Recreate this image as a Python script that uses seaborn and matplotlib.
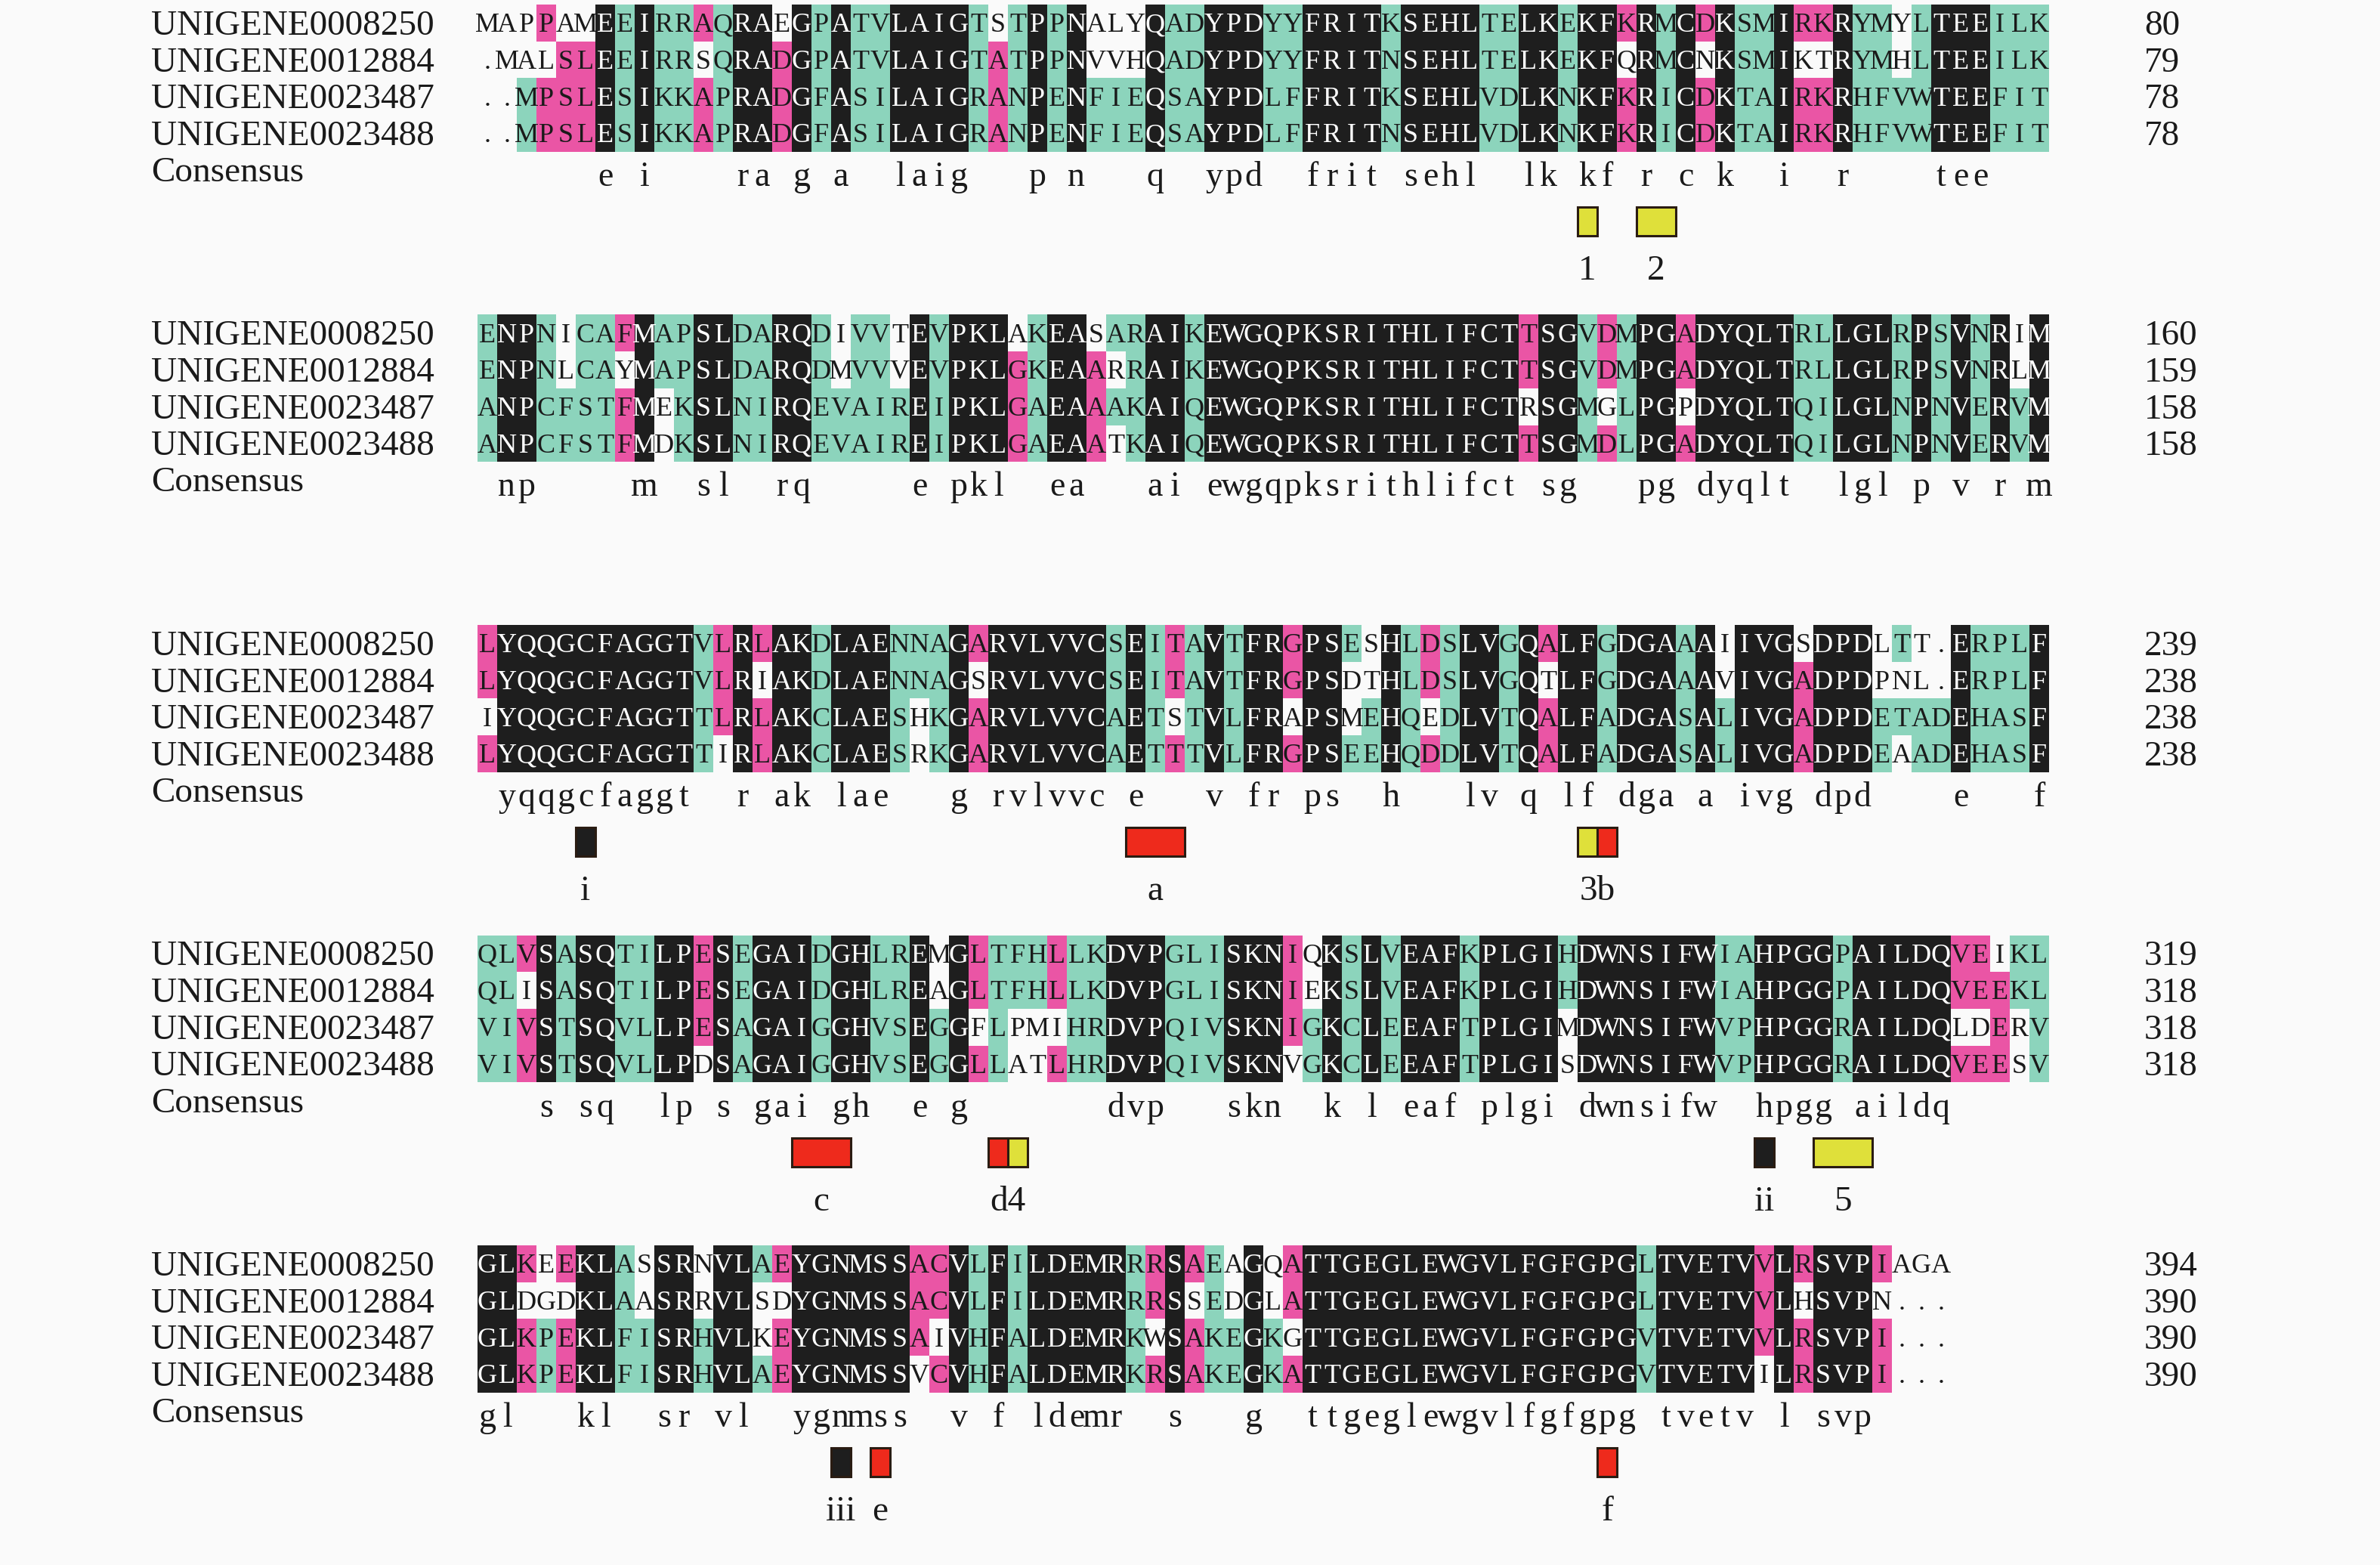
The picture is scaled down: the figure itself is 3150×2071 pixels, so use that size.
import numpy as np
import pandas as pd
import seaborn as sns
import matplotlib
matplotlib.use("Agg")
import matplotlib.pyplot as plt
from matplotlib.colors import ListedColormap
from matplotlib.patches import Rectangle

# ---------------- data ----------------
seq_names = ["UNIGENE0008250", "UNIGENE0012884", "UNIGENE0023487", "UNIGENE0023488"]

block1 = ["MAPPAMEEIRRAQRAEGPATVLAIGTSTPPNALYQADYPDYYFRITKSEHLTELKEKFKRMCDKSMIRKRYMYLTEEILK",
          ".MALSLEEIRRSQRADGPATVLAIGTATPPNVVHQADYPDYYFRITNSEHLTELKEKFQRMCNKSMIKTRYMHLTEEILK",
          "..MPSLESIKKAPRADGFASILAIGRANPENFIEQSAYPDLFFRITKSEHLVDLKNKFKRICDKTAIRKRHFVWTEEFIT",
          "..MPSLESIKKAPRADGFASILAIGRANPENFIEQSAYPDLFFRITNSEHLVDLKNKFKRICDKTAIRKRHFVWTEEFIT"]
block2 = ["ENPNICAFMAPSLDARQDIVVTEVPKLAKEASARAIKEWGQPKSRITHLIFCTTSGVDMPGADYQLTRLLGLRPSVNRIM",
          "ENPNLCAYMAPSLDARQDMVVVEVPKLGKEAARRAIKEWGQPKSRITHLIFCTTSGVDMPGADYQLTRLLGLRPSVNRLM",
          "ANPCFSTFMEKSLNIRQEVAIREIPKLGAEAAAKAIQEWGQPKSRITHLIFCTRSGMGLPGPDYQLTQILGLNPNVERVM",
          "ANPCFSTFMDKSLNIRQEVAIREIPKLGAEAATKAIQEWGQPKSRITHLIFCTTSGMDLPGADYQLTQILGLNPNVERVM"]
block3 = ["LYQQGCFAGGTVLRLAKDLAENNAGARVLVVCSEITAVTFRGPSESHLDSLVGQALFGDGAAAIIVGSDPDLTT.ERPLF",
          "LYQQGCFAGGTVLRIAKDLAENNAGSRVLVVCSEITAVTFRGPSDTHLDSLVGQTLFGDGAAAVIVGADPDPNL.ERPLF",
          "IYQQGCFAGGTTLRLAKCLAESHKGARVLVVCAETSTVLFRAPSMEHQEDLVTQALFADGASALIVGADPDETADEHASF",
          "LYQQGCFAGGTTIRLAKCLAESRKGARVLVVCAETTTVLFRGPSEEHQDDLVTQALFADGASALIVGADPDEAADEHASF"]
block4 = ["QLVSASQTILPESEGAIDGHLREMGLTFHLLKDVPGLISKNIQKSLVEAFKPLGIHDWNSIFWIAHPGGPAILDQVEIKL",
          "QLISASQTILPESEGAIDGHLREAGLTFHLLKDVPGLISKNIEKSLVEAFKPLGIHDWNSIFWIAHPGGPAILDQVEEKL",
          "VIVSTSQVLLPESAGAIGGHVSEGGFLPMIHRDVPQIVSKNIGKCLEEAFTPLGIMDWNSIFWVPHPGGRAILDQLDERV",
          "VIVSTSQVLLPDSAGAIGGHVSEGGLLATLHRDVPQIVSKNVGKCLEEAFTPLGISDWNSIFWVPHPGGRAILDQVEESV"]
block5 = ["GLKEEKLASSRNVLAEYGNMSSACVLFILDEMRRRSAEAGQATTGEGLEWGVLFGFGPGLTVETVVLRSVPIAGA",
          "GLDGDKLAASRRVLSDYGNMSSACVLFILDEMRRRSSEDGLATTGEGLEWGVLFGFGPGLTVETVVLHSVPN...",
          "GLKPEKLFISRHVLKEYGNMSSAIVHFALDEMRKWSAKEGKGTTGEGLEWGVLFGFGPGVTVETVVLRSVPI...",
          "GLKPEKLFISRHVLAEYGNMSSVCVHFALDEMRKRSAKEGKATTGEGLEWGVLFGFGPGVTVETVILRSVPI..."]
blocks = [block1, block2, block3, block4, block5]

# motif boxes below the consensus line (block number, first column, number of columns, colour)
box_block = [1, 1, 3, 3, 3, 3, 4, 4, 4, 4, 4, 5, 5, 5]
box_start = [57, 60, 6, 34, 57, 58, 17, 27, 28, 66, 69, 19, 21, 58]
box_ncols = [1, 2, 1, 3, 1, 1, 3, 1, 1, 1, 3, 1, 1, 1]
box_color = ["yellow", "yellow", "black", "red", "yellow", "red", "red", "red", "yellow",
             "black", "yellow", "black", "red", "red"]

# labels of the motif boxes (block number, centre column, text)
label_block = [1, 1, 3, 3, 3, 4, 4, 4, 4, 5, 5, 5]
label_col = [57, 60.5, 6, 35, 57.5, 18, 27.5, 66, 70, 19, 21, 58]
label_text = ["1", "2", "i", "a", "3b", "c", "d4", "ii", "5", "iii", "e", "f"]

# ---------------- style ----------------
sns.set_theme(style="white")
plt.rcParams["font.family"] = ["Liberation Serif", "DejaVu Serif"]

BG = "#fafafa"
TEAL = "#8cd4bc"
PINK = "#ea55a5"
BLACK = "#1e1e1e"
BOX_COLORS = {"yellow": "#dfe03a", "red": "#ee2a1c", "black": "#1e1e1e"}

W, H = 3150, 2071
X0, CW = 632.0, 26.0          # first column left edge (px), column width (px)
RH = 48.7                     # row height (px)
tops = [6 + 410.5 * b for b in range(5)]
NCOL = 80
SEQ_FS = 26

fig = plt.figure(figsize=(W / 100, H / 100), dpi=100, facecolor=BG)
cmap = ListedColormap([TEAL, PINK, BLACK])

running = [0, 0, 0, 0]
for b, seqs in enumerate(blocks):
    ax = fig.add_axes([X0 / W, 1 - (tops[b] + 4 * RH) / H, NCOL * CW / W, 4 * RH / H])
    ncol = max(len(s) for s in seqs)
    lev = np.full((4, NCOL), np.nan)
    consensus = []
    for c in range(ncol):
        col = [s[c] if c < len(s) else "." for s in seqs]
        res = [x for x in col if x != "."]
        counts = pd.Series(res).value_counts() if res else pd.Series(dtype=int)
        cons = ""
        for letter, k in counts.items():
            if k == 4:
                lev[:, c] = 3
                cons = letter.lower()
            elif k == 3:
                for r in range(4):
                    if col[r] == letter:
                        lev[r, c] = 2
            elif k == 2:
                for r in range(4):
                    if col[r] == letter:
                        lev[r, c] = 1
        consensus.append(cons)
    df = pd.DataFrame(lev, index=seq_names)
    sns.heatmap(df, ax=ax, cmap=cmap, vmin=0.5, vmax=3.5, cbar=False,
                xticklabels=False, yticklabels=False, mask=df.isna(), linewidths=0)
    ax.set_xlim(0, NCOL)
    ax.set_ylim(4, 0)
    ax.set_axis_off()

    for r, s in enumerate(seqs):
        for c, ch in enumerate(s):
            color = "white" if lev[r, c] == 3 else "#1a1a1a"
            ax.text(c + 0.5, r + 0.5 + 11.8 / RH, ch, ha="center", va="baseline",
                    fontsize=SEQ_FS, color=color, clip_on=False)
        running[r] += sum(1 for ch in s if ch != ".")
        ax.text((200 - X0) / CW, r + 0.5 + 15.5 / RH, seq_names[r], ha="left",
                va="baseline", fontsize=34, color="#1a1a1a", clip_on=False)
        ax.text((2838 - X0) / CW, r + 0.5 + 15.5 / RH, str(running[r]), ha="left",
                va="baseline", fontsize=34, color="#1a1a1a", clip_on=False)

    ax.text((200 - X0) / CW, 234 / RH, "Consensus", ha="left", va="baseline",
            fontsize=34, color="#1a1a1a", clip_on=False)
    for c, ch in enumerate(consensus):
        if ch:
            ax.text(c + 0.5, 240 / RH, ch, ha="center", va="baseline",
                    fontsize=33, color="#1a1a1a", clip_on=False)

    for bb, st, n, kind in zip(box_block, box_start, box_ncols, box_color):
        if bb == b + 1:
            ax.add_patch(Rectangle((st - 1, 268 / RH), n, 38 / RH,
                                   facecolor=BOX_COLORS[kind], edgecolor="#2a1c12",
                                   linewidth=2.2, clip_on=False))
    for lb, lc, lt in zip(label_block, label_col, label_text):
        if lb == b + 1:
            ax.text(lc - 0.5, 364 / RH, lt, ha="center", va="baseline",
                    fontsize=34, color="#1a1a1a", clip_on=False)

fig.savefig("out.png", dpi=100, facecolor=BG)
